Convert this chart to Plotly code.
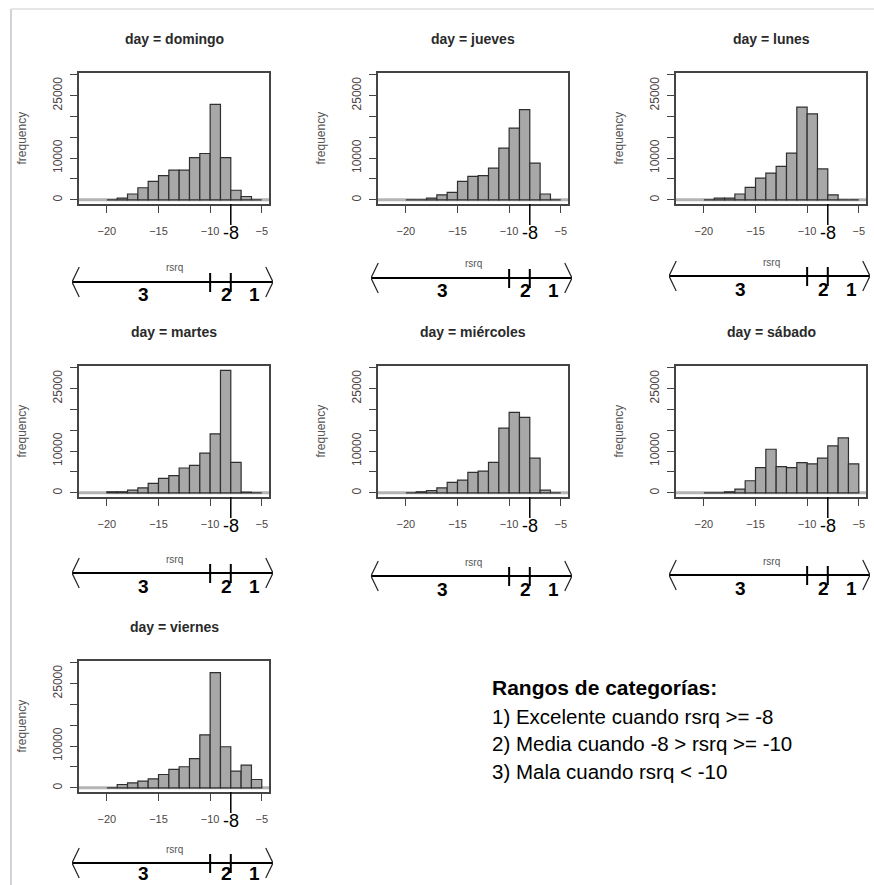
import plotly.graph_objects as go

W, H = 874, 885
FONT = "Liberation Sans, Arial, sans-serif"

# ---------------- data ----------------
days = ["domingo", "jueves", "lunes", "martes", "miércoles", "sábado", "viernes"]
bin_edges_left = [-20, -19, -18, -17, -16, -15, -14, -13, -12, -11, -10, -9, -8, -7, -6]
bin_width = 1

freq_domingo = [0, 400, 1400, 2900, 4400, 5800, 7100, 7100, 10100, 11100, 22900, 10100, 2300, 800, 0]
freq_jueves = [0, 0, 400, 1200, 1800, 4400, 5600, 5800, 7600, 12400, 17200, 21600, 8800, 1400, 0]
freq_lunes = [0, 400, 400, 1400, 3000, 5200, 6400, 8000, 11200, 22200, 20600, 7400, 1200, 0, 0]
freq_martes = [250, 250, 650, 1200, 2250, 3450, 4100, 5950, 6600, 9500, 14150, 29350, 7300, 150, 0]
freq_miercoles = [0, 250, 550, 1200, 2500, 3050, 4900, 5200, 7300, 15500, 19300, 18100, 8300, 650, 0]
freq_sabado = [0, 0, 250, 900, 2900, 6050, 10450, 6300, 6050, 7250, 6950, 8300, 11250, 13150, 6950]
freq_viernes = [0, 800, 1200, 1600, 2150, 3200, 4400, 5050, 7000, 12700, 27600, 9850, 4000, 5450, 2000]

freqs = [freq_domingo, freq_jueves, freq_lunes, freq_martes, freq_miercoles, freq_sabado, freq_viernes]

x_ticks = [-20, -15, -10, -5]
y_ticks = [0, 5000, 10000, 15000, 20000, 25000, 30000]
y_ticktext = ["0", "", "10000", "", "", "25000", ""]
highlight_tick = -8
thresholds = [-10, -8]                 # category boundaries on the number line
category_labels = ["3", "2", "1"]
category_label_x = [-16.5, -8.4, -5.7]

legend_title = "Rangos de categorías:"
legend_lines = [
    "1) Excelente cuando rsrq >= -8",
    "2) Media cuando -8 > rsrq >= -10",
    "3) Mala cuando rsrq < -10",
]

# ---------------- layout geometry (pixels) ----------------
frame_left = [79, 378, 676, 79, 378, 676, 79]
frame_top = [73, 73, 73, 366, 366, 366, 661]
FRAME_W, FRAME_H = 190, 131
numline_y = [282, 278, 276, 573, 576, 575, 863]
X_RANGE = [-22.7, -4.3]
Y_RANGE = [-1000, 30400]
px_per_unit = FRAME_W / (X_RANGE[1] - X_RANGE[0])


def px(x):
    return x / W


def py(y):
    return 1 - y / H


def ax_id(n):
    s = "" if n == 1 else str(n)
    return "x" + s, "y" + s, "xaxis" + s, "yaxis" + s


fig = go.Figure()
annotations = []
shapes = []
layout_axes = {}
TICK_COLOR = "#4d4444"

for i, day in enumerate(days):
    l, t = frame_left[i], frame_top[i]
    b = t + FRAME_H
    xa, ya, xkey, ykey = ax_id(i + 1)
    xn, yn, xnkey, ynkey = ax_id(i + 8)

    centers = [e + bin_width / 2 for e in bin_edges_left]
    fig.add_trace(go.Bar(
        x=centers, y=freqs[i], width=[bin_width] * len(centers),
        marker=dict(color="#a8a8a8", line=dict(color="#2f2f2f", width=1.2)),
        xaxis=xa, yaxis=ya, showlegend=False, hoverinfo="x+y",
    ))

    layout_axes[xkey] = dict(
        domain=[px(l), px(l + FRAME_W)], range=X_RANGE, anchor=ya,
        tickvals=x_ticks, ticks="outside", ticklen=7, tickwidth=1.2, tickcolor="#444",
        tickfont=dict(size=11, color=TICK_COLOR, family=FONT), ticklabelstandoff=9,
        showline=True, mirror=True, linecolor="#444", linewidth=1.5,
        showgrid=False, zeroline=False, fixedrange=True,
    )
    layout_axes[ykey] = dict(
        domain=[py(b), py(t)], range=Y_RANGE, anchor=xa,
        tickvals=y_ticks, ticktext=y_ticktext, tickangle=-90,
        ticks="outside", ticklen=7, tickwidth=1.2, tickcolor="#444",
        tickfont=dict(size=12, color=TICK_COLOR, family=FONT), ticklabelstandoff=3,
        showline=True, mirror=True, linecolor="#444", linewidth=1.5,
        showgrid=False, zeroline=False, fixedrange=True,
    )

    # grey reference line at zero
    shapes.append(dict(type="line", xref=f"{xa} domain", x0=0, x1=1, yref=ya, y0=0, y1=0,
                       line=dict(color="#b4b4b4", width=3), layer="below"))
    # highlighted tick at -8
    shapes.append(dict(type="line", xref=xa, x0=highlight_tick, x1=highlight_tick,
                       yref="paper", y0=py(b), y1=py(b + 21),
                       line=dict(color="black", width=1.5)))
    annotations.append(dict(text=str(highlight_tick), xref=xa, x=highlight_tick, yref="paper",
                            y=py(b + 29), showarrow=False, xanchor="center", yanchor="middle",
                            font=dict(size=18, color="black", family=FONT)))

    # title
    annotations.append(dict(text=f"<b>day = {day}</b>", xref="paper", x=px(l + FRAME_W / 2),
                            yref="paper", y=py(t - 34), showarrow=False,
                            xanchor="center", yanchor="middle",
                            font=dict(size=14, color="#2a2a2a", family=FONT)))
    # y title
    annotations.append(dict(text="frequency", xref="paper", x=px(l - 58), yref="paper",
                            y=py(t + FRAME_H / 2), showarrow=False, textangle=-90,
                            xanchor="center", yanchor="middle",
                            font=dict(size=12, color="#555", family=FONT)))

    # number line axes
    ly = numline_y[i]
    nl_range = [X_RANGE[0] - 7 / px_per_unit, X_RANGE[1] + 4 / px_per_unit]
    bottom_px = min(ly + 22, H)
    layout_axes[xnkey] = dict(domain=[px(l - 7), px(l + FRAME_W + 4)], range=nl_range,
                              anchor=yn, visible=False, fixedrange=True)
    layout_axes[ynkey] = dict(domain=[py(bottom_px), py(ly - 16)],
                              range=[-(bottom_px - ly), 16],
                              anchor=xn, visible=False, fixedrange=True)
    L, R = nl_range
    arrow_dx = 0.7
    fig.add_trace(go.Scatter(x=[L, R], y=[0, 0], mode="lines", line=dict(color="black", width=2),
                             xaxis=xn, yaxis=yn, showlegend=False, hoverinfo="skip"))
    fig.add_trace(go.Scatter(x=[L + arrow_dx, L, L + arrow_dx], y=[15, 0, -15], mode="lines",
                             line=dict(color="#222", width=1.2),
                             xaxis=xn, yaxis=yn, showlegend=False, hoverinfo="skip"))
    fig.add_trace(go.Scatter(x=[R - arrow_dx, R, R - arrow_dx], y=[15, 0, -15], mode="lines",
                             line=dict(color="#222", width=1.2),
                             xaxis=xn, yaxis=yn, showlegend=False, hoverinfo="skip"))
    for th in thresholds:
        fig.add_trace(go.Scatter(x=[th, th], y=[9, -10], mode="lines",
                                 line=dict(color="black", width=2),
                                 xaxis=xn, yaxis=yn, showlegend=False, hoverinfo="skip"))
    label_y = min(ly + 13, H - 12)
    for lab, lx in zip(category_labels, category_label_x):
        annotations.append(dict(text=f"<b>{lab}</b>", xref=xa, x=lx, yref="paper", y=py(label_y),
                                showarrow=False, xanchor="center", yanchor="middle",
                                font=dict(size=19, color="black", family=FONT)))
    annotations.append(dict(text="rsrq", xref="paper", x=px(l + FRAME_W / 2), yref="paper",
                            y=py(ly - 14), showarrow=False, xanchor="center", yanchor="middle",
                            font=dict(size=10, color="#555", family=FONT)))

# legend text block
annotations.append(dict(text=f"<b>{legend_title}</b>", xref="paper", x=px(490), yref="paper",
                        y=py(687), showarrow=False, xanchor="left", yanchor="middle",
                        font=dict(size=21, color="black", family=FONT)))
for k, line in enumerate(legend_lines):
    annotations.append(dict(text=line, xref="paper", x=px(490), yref="paper",
                            y=py(716 + 27.5 * k), showarrow=False, xanchor="left",
                            yanchor="middle", font=dict(size=20.5, color="black", family=FONT)))

# page border lines
shapes.append(dict(type="line", xref="paper", yref="paper", x0=px(11), x1=px(11),
                   y0=0, y1=py(9), line=dict(color="#cfd3da", width=2)))
shapes.append(dict(type="line", xref="paper", yref="paper", x0=px(11), x1=1,
                   y0=py(9), y1=py(9), line=dict(color="#dcdcdc", width=1.5)))

fig.update_layout(
    width=W, height=H, margin=dict(l=0, r=0, t=0, b=0),
    paper_bgcolor="white", plot_bgcolor="white",
    font=dict(family=FONT), annotations=annotations, shapes=shapes,
    showlegend=False, barmode="overlay", **layout_axes,
)

fig.write_html(
    "out.html",
    config={"displayModeBar": False},
    post_script="document.body.style.margin='0';document.body.style.overflow='hidden';",
)
